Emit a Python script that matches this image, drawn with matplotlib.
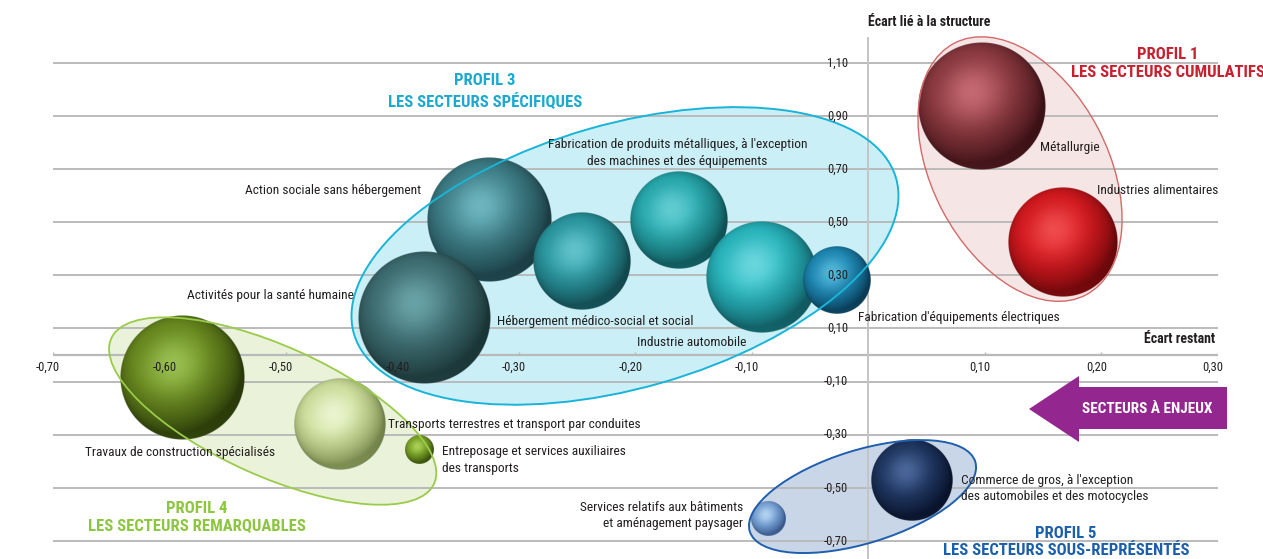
import numpy as np
import matplotlib
matplotlib.use("Agg")
import matplotlib.pyplot as plt
from matplotlib.patches import Ellipse, Polygon
from matplotlib import transforms

plt.rcParams['font.family'] = ['Liberation Sans Narrow', 'Roboto Condensed', 'Liberation Sans', 'DejaVu Sans']

# ---------------- data ----------------
secteurs = [
    "Métallurgie",
    "Industries alimentaires",
    "Action sociale sans hébergement",
    "Fabrication de produits métalliques, à l'exception\ndes machines et des équipements",
    "Activités pour la santé humaine",
    "Hébergement médico-social et social",
    "Industrie automobile",
    "Fabrication d'équipements électriques",
    "Travaux de construction spécialisés",
    "Transports terrestres et transport par conduites",
    "Entreposage et services auxiliaires\ndes transports",
    "Commerce de gros, à l'exception\ndes automobiles et des motocycles",
    "Services relatifs aux bâtiments\net aménagement paysager",
]
ecart_restant = [0.098, 0.167, -0.325, -0.162, -0.381, -0.246, -0.091, -0.027,
                 -0.589, -0.453, -0.385, 0.038, -0.085]
ecart_structure = [0.937, 0.425, 0.509, 0.508, 0.139, 0.354, 0.295, 0.282,
                   -0.085, -0.262, -0.358, -0.473, -0.615]
taille = [103, 76, 97, 60, 110, 60, 79, 29, 97, 53, 5, 42, 7.7]   # poids relatif (aire)
profil = [1, 1, 3, 3, 3, 3, 3, 3, 4, 4, 4, 5, 5]

x_ticks = [-0.70, -0.60, -0.50, -0.40, -0.30, -0.20, -0.10, 0.10, 0.20, 0.30]
y_ticks = [1.10, 0.90, 0.70, 0.50, 0.30, 0.10, -0.10, -0.30, -0.50, -0.70]

# ---------------- styles ----------------
sphere_cols = [
    ("#2a080c", "#8e3a41", "#e88890"),
    ("#560407", "#d8191f", "#ff6a6a"),
    ("#132f35", "#3e7f88", "#8cd8e2"),
    ("#0a4144", "#27acb0", "#86e2e8"),
    ("#132a2b", "#3f6f73", "#84c4c8"),
    ("#0d393e", "#2a9aa3", "#86dde6"),
    ("#0b464c", "#28b9c1", "#94eaf0"),
    ("#052a42", "#1d8ab6", "#78d4f0"),
    ("#1b2804", "#6b8c1f", "#b8e070"),
    ("#627538", "#d3e4a0", "#fbfff0"),
    ("#2b3f06", "#7ca526", "#c8ec78"),
    ("#040a1e", "#1f3762", "#6684bc"),
    ("#2a4a80", "#7aa6da", "#d8f0ff"),
]
# label offsets (pixels from bubble centre), alignment
lab_style = [
    (58, -41, 'left', 'left'),
    (34, 52, 'left', 'left'),
    (-68, 29, 'right', 'right'),
    (-2, 67, 'center', 'center'),
    (-70, 23, 'right', 'right'),
    (-84, -61, 'left', 'left'),
    (-125, -66, 'left', 'left'),
    (21, -37, 'left', 'left'),
    (-2, -75, 'center', 'center'),
    (48, 0, 'left', 'left'),
    (23, -10, 'left', 'left'),
    (49, -8, 'left', 'left'),
    (-26, 3, 'right', 'right'),
]
# profile groups : centre (data), semi-axes (px), angle, fill, edge
groupes = {
    1: dict(c=(0.1305, 0.700), a=142, b=88, ang=117.6, fc="#f6e5e5", ec="#d26a6a", lw=1.0),
    3: dict(c=(-0.2086, 0.373), a=282, b=132, ang=16.0, fc="#caeff6", ec="#19b4d8", lw=1.4),
    4: dict(c=(-0.511, -0.211), a=177, b=65, ang=-24.2, fc="#eaf2da", ec="#9acb4a", lw=1.3),
    5: dict(c=(-0.0047, -0.533), a=118, b=46.5, ang=17.2, fc="#c9d6e8", ec="#1f5fad", lw=1.4),
}

W, H, DPI = 1263, 559, 100
fig = plt.figure(figsize=(W / DPI, H / DPI), dpi=DPI)
fig.patch.set_facecolor("white")

# axes layout: x -0.70..0.30 over pixels 52.5..1217.5 ; y=0 at pixel 355, 265.6 px per unit
x_left_px, x_right_px = 52.5, 1217.5
y0_px, ppu_y = 355.0, 265.6
ax = fig.add_axes([x_left_px / W, 0, (x_right_px - x_left_px) / W, 1])
ax.set_xlim(-0.70, 0.30)
ax.set_ylim((y0_px - H) / ppu_y, y0_px / ppu_y)
ax.axis('off')

grid_c = "#b9b9b9"
ax.hlines(y_ticks, -0.70, 0.30, colors=grid_c, lw=1.1, zorder=2)
ax.hlines(0, -0.70, 0.30, colors=grid_c, lw=1.6, zorder=2)
ax.vlines(0, ax.get_ylim()[0], 1.197, colors="#c4c4c4", lw=1.4, zorder=2)
ax.vlines(x_ticks, 0, 3.5 / ppu_y, colors=grid_c, lw=1.0, zorder=2)

txt_c = "#231f20"
for xv in x_ticks:
    ax.text(xv - 0.004, -0.045, f"{xv:.2f}".replace('.', ','), ha='center', va='center',
            fontsize=9, color=txt_c, zorder=10)
for yv in y_ticks:
    ax.text(-0.017, yv, f"{yv:.2f}".replace('.', ','), ha='right', va='center',
            fontsize=9, color=txt_c, zorder=10)

# ellipses (fill under, edge over bubbles)
for g, d in groupes.items():
    tr = fig.dpi_scale_trans + transforms.ScaledTranslation(d['c'][0], d['c'][1], ax.transData)
    ax.add_patch(Ellipse((0, 0), 2 * d['a'] / DPI, 2 * d['b'] / DPI, angle=d['ang'],
                         transform=tr, facecolor=d['fc'], edgecolor='none', zorder=1, clip_on=False))
    ax.add_patch(Ellipse((0, 0), 2 * d['a'] / DPI, 2 * d['b'] / DPI, angle=d['ang'],
                         transform=tr, facecolor='none', edgecolor=d['ec'], lw=d['lw'], zorder=6, clip_on=False))
ax.hlines(y_ticks, -0.70, 0.30, colors=grid_c, lw=1.1, zorder=1.5)


def hex2rgb(h):
    h = h.lstrip('#')
    return np.array([int(h[i:i + 2], 16) / 255 for i in (0, 2, 4)])


def sphere(dark, mid, light, n=240):
    yy, xx = np.mgrid[1:-1:n * 1j, -1:1:n * 1j]
    rr = xx ** 2 + yy ** 2
    nz = np.sqrt(np.clip(1 - rr, 0, 1))
    L = np.array([-0.30, 0.45, 0.84]); L /= np.linalg.norm(L)
    Hv = L + np.array([0, 0, 1.0]); Hv /= np.linalg.norm(Hv)
    diff = np.clip(xx * L[0] + yy * L[1] + nz * L[2], 0, 1)
    spec = np.clip(xx * Hv[0] + yy * Hv[1] + nz * Hv[2], 0, 1) ** 9
    dk, md, lt = hex2rgb(dark), hex2rgb(mid), hex2rgb(light)
    shade = np.clip(0.15 + 1.0 * diff, 0, 1)
    col = dk + (md - dk) * (shade[..., None] ** 0.8)
    col = col + (lt - col) * (spec[..., None] * 0.6)
    refl = np.clip(-yy, 0, 1) ** 3 * (1 - nz) * 0.25
    col = col + (md - col) * refl[..., None]
    rim = 0.78 + 0.22 * nz ** 0.35
    col = np.clip(col * rim[..., None], 0, 1)
    alpha = np.clip((1 - np.sqrt(rr)) * n / 2, 0, 1)
    return np.dstack([col, alpha])


inv = ax.transData.inverted()
k_size = 6.3
for i, name in enumerate(secteurs):
    x, y = ecart_restant[i], ecart_structure[i]
    r = np.sqrt(taille[i]) * k_size
    cx, cy = ax.transData.transform((x, y))
    (x0, y0), (x1, y1) = inv.transform([(cx - r, cy - r), (cx + r, cy + r)])
    img = sphere(*sphere_cols[i])
    ax.imshow(img, extent=(x0, x1, y0, y1), origin='upper', aspect='auto',
              interpolation='antialiased', zorder=3, clip_on=False)
    dx, dy, ha, ma = lab_style[i]
    ax.annotate(name, xy=(x, y), xytext=(dx, dy), textcoords='offset pixels',
                ha=ha, va='center', multialignment=ma, fontsize=9.6, color=txt_c,
                linespacing=1.35, zorder=9)

ax.set_xlim(-0.70, 0.30)
ax.set_ylim((y0_px - H) / ppu_y, y0_px / ppu_y)


def fpos(px, py):
    return px / W, 1 - py / H


fig.text(*fpos(868, 22), "Écart lié à la structure", ha='left', va='center',
         fontsize=10, fontweight='bold', color=txt_c)
fig.text(*fpos(1215, 339), "Écart restant", ha='right', va='center',
         fontsize=10, fontweight='bold', color=txt_c)

titres = [
    ((1168, 63.5), "PROFIL 1\nLES SECTEURS CUMULATIFS", "#c8202e", 1.3),
    ((485, 91.5), "PROFIL 3\nLES SECTEURS SPÉCIFIQUES", "#1aa9cf", 1.3),
    ((197, 517.5), "PROFIL 4\nLES SECTEURS REMARQUABLES", "#8cc63f", 1.2),
    ((1066, 542), "PROFIL 5\nLES SECTEURS SOUS-REPRÉSENTÉS", "#1b5fab", 1.1),
]
for (px, py), t, c, ls in titres:
    fig.text(*fpos(px, py), t, ha='center', va='center', fontsize=12, fontweight='bold',
             color=c, linespacing=ls)

arrow_px = [(1029, 409), (1079, 376), (1079, 387), (1227, 387), (1227, 429), (1079, 429), (1079, 442)]
fig.patches.append(Polygon([fpos(px, py) for px, py in arrow_px], closed=True,
                           transform=fig.transFigure, facecolor="#93278f", edgecolor='none'))
fig.text(*fpos(1147, 409), "SECTEURS À ENJEUX", ha='center', va='center', fontsize=11,
         fontweight='bold', color='white')

fig.savefig("out.png", dpi=DPI)
